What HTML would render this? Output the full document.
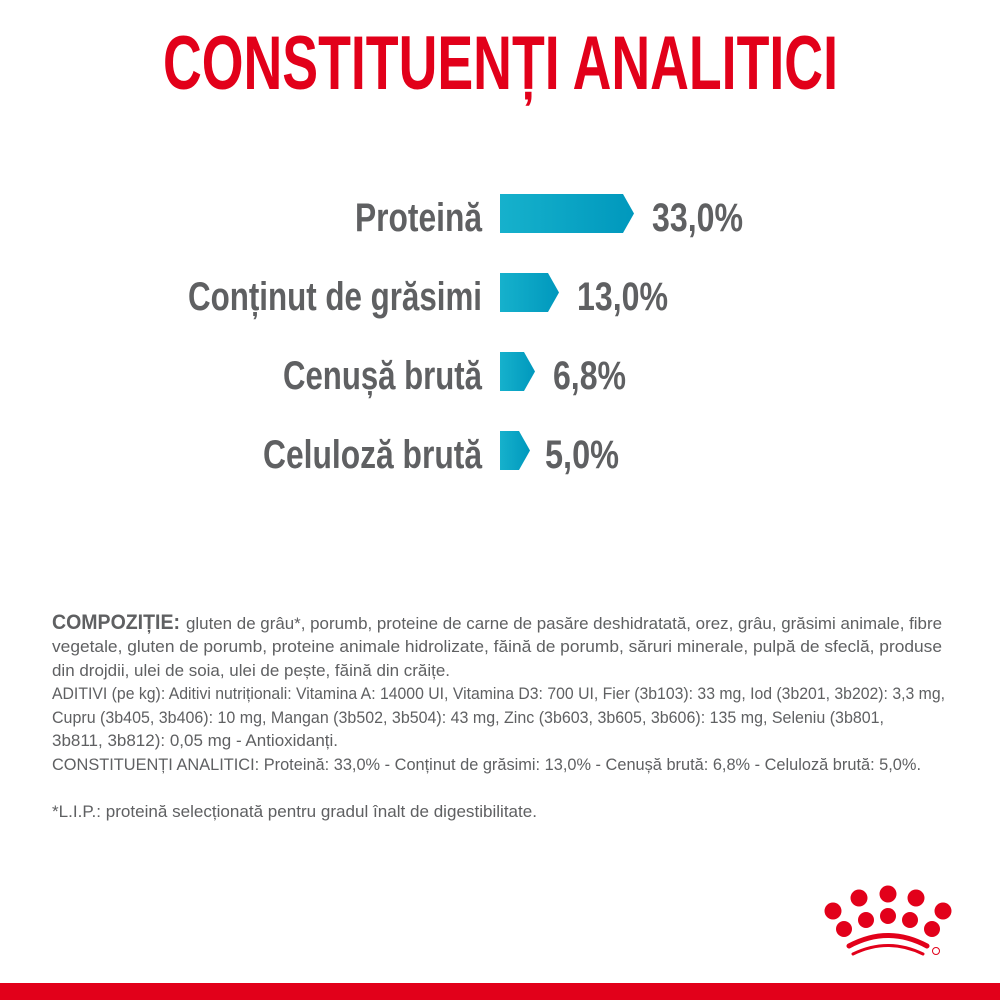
<!DOCTYPE html>
<html><head><meta charset="utf-8"><style>
html,body{margin:0;padding:0;background:#fff;}
svg{display:block;}
text{font-family:"Liberation Sans Narrow","Liberation Sans",sans-serif;}
</style></head><body>
<svg width="1000" height="1000" viewBox="0 0 1000 1000" xmlns="http://www.w3.org/2000/svg">
<defs>
<linearGradient id="g" x1="0" x2="1" y1="0" y2="0"><stop offset="0" stop-color="#16b1cc"/><stop offset="1" stop-color="#0098bd"/></linearGradient>
</defs>
<text x="163" y="89" font-size="76" font-weight="bold" fill="#e2001a" textLength="675" lengthAdjust="spacingAndGlyphs">CONSTITUENȚI ANALITICI</text>

<g font-weight="bold" font-size="40" fill="#5f6062">
<text x="355" y="231" textLength="127" lengthAdjust="spacingAndGlyphs">Proteină</text>
<text x="188" y="310" textLength="294" lengthAdjust="spacingAndGlyphs">Conținut de grăsimi</text>
<text x="283" y="389" textLength="199" lengthAdjust="spacingAndGlyphs">Cenușă brută</text>
<text x="263" y="468" textLength="219" lengthAdjust="spacingAndGlyphs">Celuloză brută</text>
<text x="652" y="231" textLength="91" lengthAdjust="spacingAndGlyphs">33,0%</text>
<text x="577" y="310" textLength="91" lengthAdjust="spacingAndGlyphs">13,0%</text>
<text x="553" y="389" textLength="73" lengthAdjust="spacingAndGlyphs">6,8%</text>
<text x="545" y="468" textLength="74" lengthAdjust="spacingAndGlyphs">5,0%</text>
</g>
<polygon points="500,194 623,194 634,213.5 623,233 500,233" fill="url(#g)"/>
<polygon points="500,273 548,273 559,292.5 548,312 500,312" fill="url(#g)"/>
<polygon points="500,352 524,352 535,371.5 524,391 500,391" fill="url(#g)"/>
<polygon points="500,431 519,431 530,450.5 519,470 500,470" fill="url(#g)"/>

<g font-size="17" fill="#5f6062">
<text x="52" y="629"><tspan font-weight="bold" font-size="21" textLength="128" lengthAdjust="spacingAndGlyphs">COMPOZIȚIE:</tspan></text>
<text x="186" y="629" textLength="756" lengthAdjust="spacingAndGlyphs">gluten de grâu*, porumb, proteine de carne de pasăre deshidratată, orez, grâu, grăsimi animale, fibre</text>
<text x="52" y="652" textLength="890" lengthAdjust="spacingAndGlyphs">vegetale, gluten de porumb, proteine animale hidrolizate, făină de porumb, săruri minerale, pulpă de sfeclă, produse</text>
<text x="52" y="676" textLength="398" lengthAdjust="spacingAndGlyphs">din drojdii, ulei de soia, ulei de pește, făină din crăițe.</text>
<text x="52" y="699" textLength="893" lengthAdjust="spacingAndGlyphs">ADITIVI (pe kg): Aditivi nutriționali: Vitamina A: 14000 UI, Vitamina D3: 700 UI, Fier (3b103): 33 mg, Iod (3b201, 3b202): 3,3 mg,</text>
<text x="52" y="723" textLength="832" lengthAdjust="spacingAndGlyphs">Cupru (3b405, 3b406): 10 mg, Mangan (3b502, 3b504): 43 mg, Zinc (3b603, 3b605, 3b606): 135 mg, Seleniu (3b801,</text>
<text x="52" y="746" textLength="286" lengthAdjust="spacingAndGlyphs">3b811, 3b812): 0,05 mg - Antioxidanți.</text>
<text x="52" y="770" textLength="869" lengthAdjust="spacingAndGlyphs">CONSTITUENȚI ANALITICI: Proteină: 33,0% - Conținut de grăsimi: 13,0% - Cenușă brută: 6,8% - Celuloză brută: 5,0%.</text>
<text x="52" y="817" textLength="485" lengthAdjust="spacingAndGlyphs">*L.I.P.: proteină selecționată pentru gradul înalt de digestibilitate.</text>
</g>

<g fill="#e2001a">
<circle cx="833" cy="911" r="8.5"/><circle cx="859" cy="898" r="8.5"/><circle cx="888" cy="894" r="8.5"/><circle cx="916" cy="898" r="8.5"/><circle cx="943" cy="911" r="8.5"/>
<circle cx="844" cy="929" r="8"/><circle cx="866" cy="920" r="8"/><circle cx="888" cy="916" r="8"/><circle cx="910" cy="920" r="8"/><circle cx="932" cy="929" r="8"/>
</g>
<g fill="none" stroke="#e2001a" stroke-linecap="round">
<path d="M849 946 Q888 925 927 946" stroke-width="5"/>
<path d="M853 954 Q888 937 923 954" stroke-width="3"/>
</g>
<circle cx="936" cy="951" r="3.5" fill="none" stroke="#e2001a" stroke-width="1"/>
<rect x="0" y="983" width="1000" height="17" fill="#e2001a"/>
</svg>
</body></html>
